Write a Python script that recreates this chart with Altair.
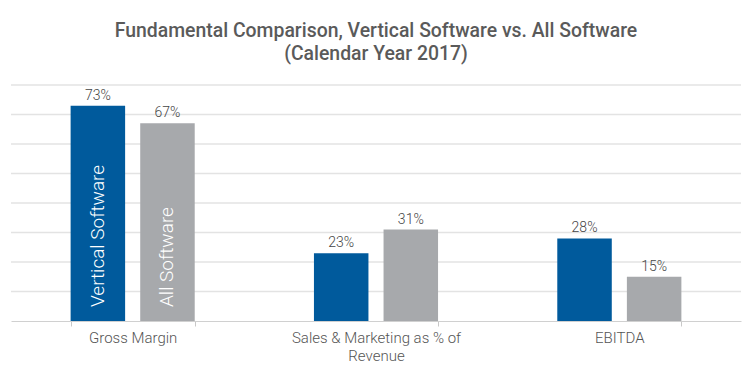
import altair as alt
import pandas as pd

categories = ["Gross Margin", "Sales & Marketing as % of Revenue", "EBITDA"]
series = ["Vertical Software", "All Software"]
vertical_values = [73, 23, 28]
all_values = [67, 31, 15]
colors = ["#005A9C", "#A7A9AC"]
grid_values = [10, 20, 30, 40, 50, 60, 70, 80]
title_lines = ["Fundamental Comparison, Vertical Software vs. All Software", "(Calendar Year 2017)"]

rows = []
for c, v, a in zip(categories, vertical_values, all_values):
    rows.append({"category": c, "series": series[0], "value": v})
    rows.append({"category": c, "series": series[1], "value": a})
df = pd.DataFrame(rows)
df["label"] = df["value"].astype(str) + "%"

grid_df = pd.DataFrame({"value": grid_values})

label_expr = ("datum.label == 'Sales & Marketing as % of Revenue' ? "
              "['Sales & Marketing as % of', 'Revenue'] : datum.label")

y_enc = alt.Y("value:Q", scale=alt.Scale(domain=[0, 80], nice=False),
              axis=alt.Axis(title=None, labels=False, ticks=False, domain=False, grid=False))

grid = alt.Chart(grid_df).mark_rule(color="#e3e3e3", strokeWidth=1.5).encode(y=y_enc)

base = alt.Chart(df).encode(
    x=alt.X("category:N", sort=categories,
            scale=alt.Scale(paddingInner=0.49, paddingOuter=0.245),
            axis=alt.Axis(title=None, labelAngle=0, labelExpr=label_expr,
                          tickBand="extent", tickSize=5, domainColor="#d0d0d0",
                          tickColor="#c8c8c8", tickWidth=1, labelFontSize=15,
                          labelColor="#555555", labelFont="Roboto", labelFontWeight=300,
                          labelPadding=4, labelLineHeight=18, grid=False)),
    xOffset=alt.XOffset("series:N", sort=series,
                        scale=alt.Scale(paddingInner=0.217, paddingOuter=0)),
    y=y_enc,
)

bars = base.mark_bar().encode(
    color=alt.Color("series:N", scale=alt.Scale(domain=series, range=colors), legend=None)
)

labels = base.mark_text(baseline="bottom", dy=-3, fontSize=14, color="#444444",
                        font="Roboto", fontWeight=300).encode(text="label:N")

inbar = base.transform_filter(alt.datum.category == "Gross Margin").mark_text(
    angle=270, align="left", baseline="middle", dx=14, fontSize=19,
    color="white", font="Roboto", fontWeight=300
).encode(y=alt.datum(0), text="series:N")

chart = alt.layer(grid, bars, labels, inbar).properties(
    width=730, height=236,
    title=alt.TitleParams(title_lines, fontSize=19.4, font="Roboto", fontWeight=500,
                          color="#5a5a5a", lineHeight=23, anchor="middle", offset=20),
    autosize=alt.AutoSizeParams(type="none"),
    padding={"left": 3, "top": 77, "right": 1, "bottom": 53},
).configure_view(stroke=None)

chart.save("out.html", embed_options={"renderer": "svg", "actions": False})
